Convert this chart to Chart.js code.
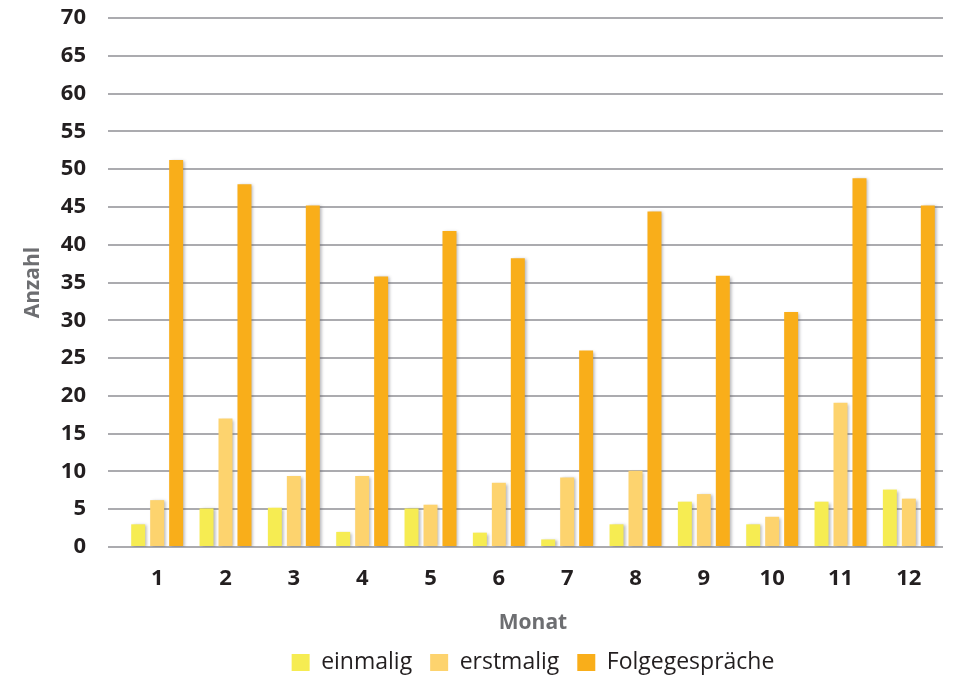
<!DOCTYPE html>
<html>
<head>
<meta charset="utf-8">
<script src="https://cdn.jsdelivr.net/npm/chart.js@4"></script>
<style>
  html, body { margin: 0; padding: 0; background: #fff; }
  #wrap { width: 967px; height: 684px; }
</style>
</head>
<body>
<div id="wrap"><canvas id="myChart"></canvas></div>
<script>
const months = ["1", "2", "3", "4", "5", "6", "7", "8", "9", "10", "11", "12"];
const einmalig = [3, 5.1, 5.2, 2, 5.1, 1.9, 1, 3, 6, 3, 6, 7.6];
const erstmalig = [6.2, 17, 9.4, 9.4, 5.6, 8.5, 9.2, 10.1, 7, 4, 19.1, 6.4];
const folge = [51.2, 48, 45.2, 35.8, 41.8, 38.2, 26, 44.4, 35.9, 31.1, 48.8, 45.2];

// soft drop shadow behind the bars only
const barShadow = {
  id: "barShadow",
  beforeDatasetsDraw: (chart) => {
    const c = chart.ctx;
    c.save();
    c.shadowColor = "rgba(90, 90, 100, 0.45)";
    c.shadowBlur = 3;
    c.shadowOffsetX = 2;
    c.shadowOffsetY = 1;
  },
  afterDatasetsDraw: (chart) => {
    chart.ctx.restore();
  },
};

const ctx = document.getElementById("myChart").getContext("2d");
const myChart = new Chart(ctx, {
  type: "bar",
  data: {
    labels: months,
    datasets: [
      { label: "einmalig", data: einmalig, backgroundColor: "#F6EC52" },
      { label: "erstmalig", data: erstmalig, backgroundColor: "#FDD36E" },
      { label: "Folgegespräche", data: folge, backgroundColor: "#F9AE1A" },
    ],
  },
  options: {
    responsive: true,
    maintainAspectRatio: false,
    animation: false,
    categoryPercentage: 0.833,
    barPercentage: 0.737,
    layout: {
      padding: { top: 18, right: 24, left: 0, bottom: 0 },
    },
    plugins: {
      tooltip: { enabled: false },
      legend: {
        position: "bottom",
        fullSize: false,
        labels: {
          boxWidth: 18,
          boxHeight: 17,
          padding: 18,
          color: "#231F20",
          font: { family: "Open Sans", size: 23 },
        },
      },
    },
    scales: {
      x: {
        grid: { display: false },
        border: { display: false },
        ticks: {
          color: "#231F20",
          padding: 11,
          font: { family: "Open Sans", size: 22, weight: "bold" },
        },
        title: {
          display: true,
          text: "Monat",
          color: "#6D6E71",
          padding: { top: 0, bottom: -3 },
          font: { family: "Open Sans", size: 21, weight: "bold" },
        },
        afterFit: (scale) => {
          scale.height = 86;
        },
      },
      y: {
        min: 0,
        max: 70,
        grid: {
          color: "#ABABAF",
          lineWidth: 2,
          drawTicks: true,
          tickLength: 15,
          tickColor: "#ABABAF",
        },
        border: { display: false },
        ticks: {
          stepSize: 5,
          color: "#231F20",
          padding: 22,
          font: { family: "Open Sans", size: 22, weight: "bold" },
        },
        title: {
          display: true,
          text: "Anzahl",
          color: "#6D6E71",
          padding: { top: 20, bottom: 0 },
          font: { family: "Open Sans", size: 21, weight: "bold" },
        },
        afterFit: (scale) => {
          scale.width = 123;
          scale.paddingTop = 0;
          scale.paddingBottom = 0;
        },
      },
    },
  },
  plugins: [barShadow],
});
</script>
</body>
</html>
